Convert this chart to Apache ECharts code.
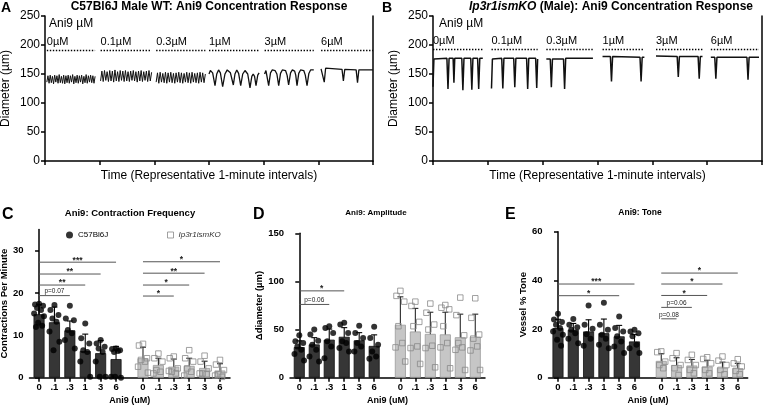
<!DOCTYPE html>
<html><head><meta charset="utf-8">
<script src="https://cdn.jsdelivr.net/npm/echarts@6/dist/echarts.min.js"></script>
<style>html,body{margin:0;padding:0;background:#fff}#c{width:763px;height:409px}</style>
</head><body><div id="c"></div>
<script>
// ---------- DATA ----------
const concLabels = ['0µM', '0.1µM', '0.3µM', '1µM', '3µM', '6µM'];
const catLabels = ['0', '.1', '.3', '1', '3', '6'];
// Panel A (WT) traces: dense oscillations (evenly sampled between window start/end seconds)
const aOscWin = [[2, 55], [1, 57], [2, 56]];
const aOsc0 = [136,147,134,148,135,146,133,148,136,147,134,149,135,146,134,148,133,147,135,148,134,147,136,149,133,146,135,148,134,147,136,148,133,146,135,149,134,147,136,148,135,147,134,146];
const aOsc1 = [138,155,137,156,139,154,137,156,138,155,136,157,138,154,137,156,139,155,137,156,138,154,137,155,139,156,138,154,136,155,138,156,137,154,139,155,137,156,138,153];
const aOsc2 = [136,152,134,153,136,151,135,153,134,152,136,153,135,151,134,152,136,153,135,152,134,151,136,153,135,152,134,153,136,151,135,152,134,153,136,152,135,150];
// [seconds, diameter]
const aTr3 = [[0,150],[1.5,156],[4,152],[6.6,130],[8.5,150],[10.5,157],[12.5,152],[15,128],[17.5,150],[20,157],[23.5,152],[26.7,131],[28.5,150],[30.5,157],[32.5,151],[34.8,130],[37,150],[39.5,156],[42.5,150],[45,126],[47,146],[48.5,150],[50,146],[51.6,130],[53.5,148],[55,152]];
const aTr4 = [[1,150],[2.5,156],[4,153],[5.5,130],[7.5,152],[9.5,157],[12.5,156],[14.5,150],[16.5,130],[18.5,151],[20.5,157],[24,156],[25.7,148],[27.4,131],[29.5,152],[31.5,157],[34,155],[35.2,148],[36.6,130],[38.5,151],[40.5,157],[44,156],[45.7,148],[47.6,130],[49.6,151],[51.5,157],[55,157]];
const aTr5 = [[3,159],[5,158],[6.5,136],[8,160],[26,158],[27.5,138],[29,158],[41.5,157],[43,135],[44.5,157],[60,157]];
const aDotLevel = 191;
// Panel B (Ip3r1ismKO) traces
const bTr0 = [[0,128],[1,176],[15.2,177],[16.4,124],[17.6,177],[22,177],[22.9,135],[23.8,177],[31.5,177],[32.7,122],[33.9,177],[41.3,177],[42.5,123],[43.7,177],[48.8,177],[50,124],[51.2,177],[54.5,177]];
const bTr1 = [[4,125],[5,176],[15.2,177],[16.4,125],[17.6,177],[28.3,177],[29.5,127],[30.7,177],[42.4,177],[43.6,124],[44.8,177],[52.3,177],[53.5,126],[54.5,176]];
const bTr2 = [[4,176],[8.3,176],[9.5,127],[10.7,176],[22.8,176],[24,124],[25.2,177],[55,177]];
const bTr3 = [[5.5,180],[14.1,180],[15.3,137],[16.5,180],[46.5,179],[47.7,137],[48.9,179],[51.3,179]];
const bTr4 = [[4,181],[27.2,180],[28.4,145],[29.6,180],[50.1,180],[51.3,142],[52.5,180],[54.9,180]];
const bTr5 = [[4,179],[8.3,179],[9.5,142],[10.7,179],[43.5,179],[44.7,140],[45.9,179],[56.7,179]];
const bDotLevel = 193;

// Panel C: contraction frequency
const cMean1 = [15.0, 13.1, 11.2, 6.3, 5.8, 4.4];
const cSD1 = [2.3, 3.6, 2.2, 4.0, 3.0, 3.0];
const cMean2 = [4.6, 3.0, 2.6, 2.8, 2.3, 1.7];
const cSD2 = [2.6, 1.6, 1.8, 1.8, 1.6, 1.6];
const cPts1 = [[17.5,17.3,17.0,16.5,16.0,15.2,14.5,13.0,12.3,12.0],[17.2,16.0,14.8,14.0,13.2,10.9,8.5,6.5],[17.0,14.0,13.6,11.3,10.5,8.9,6.9],[12.8,9.3,8.1,6.5,6.1,3.8,0.2],[8.9,8.1,7.3,6.9,6.1,3.8,0.2,0.2],[6.9,6.8,6.5,6.1,6.3,0.2,0,0.2]];
const cPts2 = [[8.0,7.6,4.6,4.2,3.8,2.6,1.2],[5.7,4.6,3.8,1.8,1.4,1.0],[5.0,4.6,2.2,1.4,1.0,1.6],[6.5,4.6,3.8,2.2,1.4,0.5],[5.2,3.8,2.2,1.0,0.8,1.0],[4.2,3.1,1.8,0.8,0.2,0.5]];
const cSig = [[0,0,5,27.3,'***'],[0,0,4,24.5,'**'],[0,0,3,21.9,'**'],[0,0,2,19.4,'p=0.07'],[1,0,5,27.4,'*'],[1,0,4,24.7,'**'],[1,0,3,21.9,'*'],[1,0,2,19.3,'*']];
// Panel D: amplitude
const dMean1 = [31.8, 34.6, 39.5, 42.5, 38.8, 33.0];
const dSD1 = [6.5, 7.0, 11.0, 9.5, 8.0, 11.5];
const dMean2 = [55.0, 48.0, 45.5, 45.0, 42.0, 42.5];
const dSD2 = [29.0, 24.0, 22.5, 23.0, 24.0, 23.5];
const dPts1 = [[44,37.8,36,32.5,29,24.5,17.8],[50,44.8,38.5,34.3,29,22,16.8],[53.5,51.7,46.5,37.8,32.5,20.3],[57,55.2,46.5,37.8,36,30.8,27.3],[54,46.5,41.3,36,32.5,27.3],[53,41.3,34.3,27.3,22,19.6]];
const dPts2 = [[90.2,85,79,53.5,36,31.5,16.8],[79,74.5,58,53.5,32.5,30.8,14.3],[77,67.5,55.2,50,33.2,30.8,10.8],[75.5,72.7,71,53.5,36,31.5,9.8],[83.2,65,44,36,31.5,29,8],[82.5,62.2,44.8,40.6,32.5,28.3,8]];
const dSig = [[0,0,3,90.2,'*'],[0,0,2,76.1,'p=0.06']];
// Panel E: tone
const eMean1 = [20.4, 19.7, 19.0, 18.3, 17.0, 14.9];
const eSD1 = [3.6, 2.6, 4.8, 5.8, 4.5, 2.8];
const eMean2 = [6.9, 5.2, 5.0, 4.6, 4.1, 3.9];
const eSD2 = [3.0, 3.0, 2.5, 2.5, 2.3, 2.0];
const ePts1 = [[26.3,23.9,22.9,21.8,20.4,19,17.7,15.6,13.1],[24.1,21.8,20.7,19.7,18.3,16,14.2],[29.7,21.8,20.1,17.9,16,13.1],[30.8,21.8,19.7,17.7,16,13.5,12.1],[25.2,20.4,19,17,14.9,12.8,10.1],[19.7,19,18.3,17,13.5,12.1,10.1]];
const ePts2 = [[10.8,10.5,6.6,5.2,3.9],[10.1,8,5.2,3.9,1.1],[9.4,7.3,5.2,3.2,1.8],[8.4,7.7,5.9,3.2,1.8],[8.7,7,5.2,3.2,1.4],[7.6,5.9,4.6,2.8,1.4]];
const eSig = [[0,0,5,38.5,'***'],[0,0,4,33.7,'*'],[1,0,5,43.0,'*'],[1,0,4,38.5,'*'],[1,0,3,33.8,'*'],[1,0,2,28.9,'p=0.06'],[1,0,1,24.2,'p=0.08']];

// ---------- LAYOUT / STYLE ----------
const FONT = "'Liberation Sans', Arial, Helvetica, sans-serif";
const GAP2 = 6.75;
const pos = (g, i) => i + g * GAP2;
const catPositions = [0,1,2,3,4,5].map(i => pos(0, i)).concat([0,1,2,3,4,5].map(i => pos(1, i)));
const jit = [0, -0.26, 0.26, -0.13, 0.13, -0.32, 0.32, -0.06, 0.2, -0.2];
const BLACK = '#000';

function catLabel(v) {
  for (let g = 0; g < 2; g++) for (let i = 0; i < 6; i++) if (Math.abs(pos(g, i) - v) < 0.01) return catLabels[i];
  return '';
}

function traceSeries(xi, yi, seg, data, lvl, lw) {
  const t0 = data[0][0], t1 = data[data.length - 1][0];
  return {
    type: 'line', xAxisIndex: xi, yAxisIndex: yi, silent: true, symbol: 'none', showSymbol: false,
    data: data.map(p => [seg + p[0] / 60, p[1]]),
    lineStyle: { color: '#111', width: lw },
    markLine: {
      silent: true, symbol: 'none', animation: false,
      lineStyle: { color: BLACK, type: [1.4, 1.6], width: 1.4 },
      label: { show: true, position: 'insideStartTop', formatter: concLabels[seg], color: BLACK, fontSize: 11, fontFamily: FONT, distance: [0, 3] },
      data: [[{ coord: [seg + t0 / 60, lvl] }, { coord: [seg + t1 / 60, lvl] }]]
    }
  };
}
function oscData(win, ys) {
  return ys.map((y, i) => [win[0] + i * (win[1] - win[0]) / (ys.length - 1), y]);
}

function barSeries(xi, yi, m1, m2) {
  const data = m1.map((m, i) => ({ value: [pos(0, i), m], itemStyle: { color: '#363636', borderColor: '#111', borderWidth: 0.8 } }))
    .concat(m2.map((m, i) => ({ value: [pos(1, i), m], itemStyle: { color: '#c6c6c6', borderColor: '#9a9a9a', borderWidth: 0.8 } })));
  return { type: 'bar', xAxisIndex: xi, yAxisIndex: yi, barWidth: 11, data, silent: true };
}
function ptsData(arr, g) {
  const out = [];
  arr.forEach((vals, i) => vals.forEach((v, k) => out.push([pos(g, i) + jit[k % jit.length], v])));
  return out;
}
function scatterSeries(xi, yi, name, arr, g) {
  return g === 0
    ? { type: 'scatter', name, xAxisIndex: xi, yAxisIndex: yi, data: ptsData(arr, 0), symbol: 'circle', symbolSize: 6, itemStyle: { color: '#000' }, silent: true }
    : { type: 'scatter', name, xAxisIndex: xi, yAxisIndex: yi, data: ptsData(arr, 1), symbol: 'rect', symbolSize: 5.5, itemStyle: { color: 'rgba(255,255,255,0)', borderColor: '#8a8a8a', borderWidth: 1 }, silent: true };
}
function errSeries(xi, yi, means, sds, g, color) {
  return {
    type: 'custom', xAxisIndex: xi, yAxisIndex: yi, silent: true,
    data: means.map((m, i) => [pos(g, i), m, sds[i]]),
    renderItem: (p, api) => {
      const x = api.value(0), m = api.value(1), s = api.value(2);
      const top = api.coord([x, m + s]), bot = api.coord([x, Math.max(0, m - s)]);
      const w = 3, st = { stroke: color, lineWidth: 1.1 };
      return { type: 'group', children: [
        { type: 'line', shape: { x1: top[0], y1: top[1], x2: bot[0], y2: bot[1] }, style: st },
        { type: 'line', shape: { x1: top[0] - w, y1: top[1], x2: top[0] + w, y2: top[1] }, style: st },
        { type: 'line', shape: { x1: bot[0] - w, y1: bot[1], x2: bot[0] + w, y2: bot[1] }, style: st }
      ] };
    }
  };
}
function sigSeries(xi, yi, sig) {
  return {
    type: 'custom', xAxisIndex: xi, yAxisIndex: yi, silent: true,
    data: sig.map(s => [pos(s[0], s[1]), pos(s[0], s[2]), s[3]]),
    renderItem: (p, api) => {
      const a = api.coord([api.value(0), api.value(2)]), b = api.coord([api.value(1), api.value(2)]);
      const t = sig[p.dataIndex][4];
      const isP = t.charAt(0) === 'p';
      return { type: 'group', children: [
        { type: 'line', shape: { x1: a[0], y1: a[1], x2: b[0], y2: b[1] }, style: { stroke: '#555', lineWidth: 1 } },
        { type: 'text', style: { text: t, x: (a[0] + b[0]) / 2, y: isP ? a[1] - 0.5 : a[1] + 2.5, align: 'center', textAlign: 'center', verticalAlign: 'bottom', textVerticalAlign: 'bottom',
          font: isP ? '6.5px ' + FONT : 'bold 8.5px ' + FONT, fill: '#222' } }
      ] };
    }
  };
}

const axLine = { show: true, lineStyle: { color: BLACK, width: 1.5 } };
const axTick = { show: true, length: 4, inside: false, lineStyle: { color: BLACK, width: 1.5 } };

function traceX(gi, name) {
  return { gridIndex: gi, type: 'value', min: 0, max: 6, interval: 1, axisLine: axLine, axisTick: axTick,
    axisLabel: { show: false }, splitLine: { show: false },
    name, nameLocation: 'middle', nameGap: 9, nameTextStyle: { fontSize: 12, color: BLACK, fontFamily: FONT } };
}
function traceY(gi) {
  return [
    { gridIndex: gi, type: 'value', min: 0, max: 250, interval: 50, axisLine: axLine, axisTick: axTick,
      axisLabel: { fontSize: 12, color: BLACK, fontFamily: FONT, margin: 5 }, splitLine: { show: false },
      name: 'Diameter (µm)', nameLocation: 'middle', nameRotate: 90, nameGap: 33, nameTextStyle: { fontSize: 12, color: BLACK, fontFamily: FONT } },
    { gridIndex: gi, type: 'value', position: 'right', min: 0, max: 250, axisLine: axLine, axisTick: { show: false }, axisLabel: { show: false }, splitLine: { show: false } }
  ];
}
function barX(gi) {
  return { gridIndex: gi, type: 'value', min: -0.62, max: 12.4, axisLine: axLine,
    axisTick: { show: true, length: 4, lineStyle: { color: BLACK, width: 1.5 }, customValues: catPositions },
    axisLabel: { fontSize: 9.5, fontWeight: 'bold', color: BLACK, fontFamily: FONT, margin: 5, customValues: catPositions, formatter: catLabel },
    splitLine: { show: false },
    name: 'Ani9 (uM)', nameLocation: 'middle', nameGap: 18, nameTextStyle: { fontSize: 9, fontWeight: 'bold', color: BLACK, fontFamily: FONT } };
}
function barY(gi, max, ticks, name, gap) {
  return { gridIndex: gi, type: 'value', min: 0, max, axisLine: axLine,
    axisTick: { show: true, length: 4, lineStyle: { color: BLACK, width: 1.5 }, customValues: ticks },
    axisLabel: { fontSize: 9.5, fontWeight: 'bold', color: BLACK, fontFamily: FONT, margin: 6, customValues: ticks },
    splitLine: { show: false },
    name, nameLocation: 'middle', nameRotate: 90, nameGap: gap, nameTextStyle: { fontSize: 9.5, fontWeight: 'bold', color: BLACK, fontFamily: FONT } };
}

function txt(x, y, text, font, align, valign, extra) {
  return { type: 'text', x, y, silent: true, style: Object.assign({ text, font: font + ' ' + FONT, fill: BLACK, align: align, textAlign: align, verticalAlign: valign, textVerticalAlign: valign }, extra || {}) };
}

const series = [];
// A traces
[aOsc0, aOsc1, aOsc2].forEach((ys, s) => series.push(traceSeries(0, 0, s, oscData(aOscWin[s], ys), aDotLevel, 1)));
[aTr3, aTr4, aTr5].forEach((d, k) => series.push(traceSeries(0, 0, k + 3, d, aDotLevel, 1.3)));
// B traces
[bTr0, bTr1, bTr2, bTr3, bTr4, bTr5].forEach((d, s) => series.push(traceSeries(1, 2, s, d, bDotLevel, 1.5)));
// C
series.push(barSeries(2, 4, cMean1, cMean2));
series.push(scatterSeries(2, 4, 'C57Bl6J', cPts1, 0));
series.push(scatterSeries(2, 4, 'Ip3r1ismKO', cPts2, 1));
series.push(errSeries(2, 4, cMean1, cSD1, 0, '#000'));
series.push(errSeries(2, 4, cMean2, cSD2, 1, '#2a2a2a'));
series.push(sigSeries(2, 4, cSig));
// D
series.push(barSeries(3, 5, dMean1, dMean2));
series.push(scatterSeries(3, 5, 'WT amplitude', dPts1, 0));
series.push(scatterSeries(3, 5, 'KO amplitude', dPts2, 1));
series.push(errSeries(3, 5, dMean1, dSD1, 0, '#000'));
series.push(errSeries(3, 5, dMean2, dSD2, 1, '#2a2a2a'));
series.push(sigSeries(3, 5, dSig));
// E
series.push(barSeries(4, 6, eMean1, eMean2));
series.push(scatterSeries(4, 6, 'WT tone', ePts1, 0));
series.push(scatterSeries(4, 6, 'KO tone', ePts2, 1));
series.push(errSeries(4, 6, eMean1, eSD1, 0, '#000'));
series.push(errSeries(4, 6, eMean2, eSD2, 1, '#2a2a2a'));
series.push(sigSeries(4, 6, eSig));

const option = {
  animation: false,
  textStyle: { fontFamily: FONT },
  grid: [
    { left: 45, top: 16, width: 328, height: 145, outerBoundsMode: 'none' },
    { left: 433, top: 16, width: 329, height: 145, outerBoundsMode: 'none' },
    { left: 29.5, top: 229.6, width: 200.5, height: 148.1, outerBoundsMode: 'none' },
    { left: 290, top: 233.3, width: 195, height: 144.4, outerBoundsMode: 'none' },
    { left: 548.5, top: 231.7, width: 199.2, height: 146, outerBoundsMode: 'none' }
  ],
  xAxis: [
    traceX(0, 'Time (Representative 1-minute intervals)'),
    traceX(1, 'Time (Representative 1-minute intervals)'),
    barX(2), barX(3), barX(4)
  ],
  yAxis: traceY(0).concat(traceY(1)).concat([
    barY(2, 35, [0, 10, 20, 30], 'Contractions Per Minute', 17),
    barY(3, 150, [0, 50, 100, 150], 'Δdiameter (µm)', 24),
    barY(4, 60, [0, 20, 40, 60], 'Vessel % Tone', 19)
  ]),
  legend: [
    { data: ['C57Bl6J'], left: 66, top: 231, padding: 0, itemWidth: 7, itemHeight: 7, icon: 'circle', selectedMode: false,
      itemStyle: { color: '#000' }, textStyle: { fontSize: 8, color: BLACK, fontFamily: FONT } },
    { data: ['Ip3r1ismKO'], left: 167, top: 231, padding: 0, itemWidth: 6, itemHeight: 6, icon: 'rect', selectedMode: false,
      itemStyle: { color: '#fff', borderColor: '#8a8a8a', borderWidth: 1 }, textStyle: { fontSize: 8, fontStyle: 'italic', color: '#333', fontFamily: FONT } }
  ],
  graphic: [
    txt(1, 1, 'A', 'bold 14px', 'left', 'top'),
    txt(209, 7, 'C57Bl6J Male WT: Ani9 Concentration Response', 'bold 12px', 'center', 'middle'),
    txt(49, 24, 'Ani9 µM', '12px', 'left', 'middle'),
    txt(382, 1, 'B', 'bold 14px', 'left', 'top'),
    { type: 'text', x: 611, y: 7, silent: true, style: { text: '{i|Ip3r1ismKO} (Male): Ani9 Concentration Response', font: 'bold 12px ' + FONT, fill: BLACK,
      align: 'center', textAlign: 'center', verticalAlign: 'middle', textVerticalAlign: 'middle',
      rich: { i: { fontStyle: 'italic', fontWeight: 'bold', fontSize: 12, fontFamily: FONT, fill: BLACK, color: BLACK } } } },
    txt(439, 24, 'Ani9 µM', '12px', 'left', 'middle'),
    txt(2, 215, 'C', 'bold 16px', 'left', 'middle'),
    txt(130, 213, 'Ani9: Contraction Frequency', 'bold 9.5px', 'center', 'middle'),
    txt(253, 215, 'D', 'bold 16px', 'left', 'middle'),
    txt(376, 213, 'Ani9: Amplitude', 'bold 8px', 'center', 'middle'),
    txt(505, 215, 'E', 'bold 16px', 'left', 'middle'),
    txt(640, 213, 'Ani9: Tone', 'bold 8.5px', 'center', 'middle')
  ],
  series
};
const chart = echarts.init(document.getElementById('c'), null, { renderer: 'canvas' });
chart.setOption(option);
</script></body></html>
